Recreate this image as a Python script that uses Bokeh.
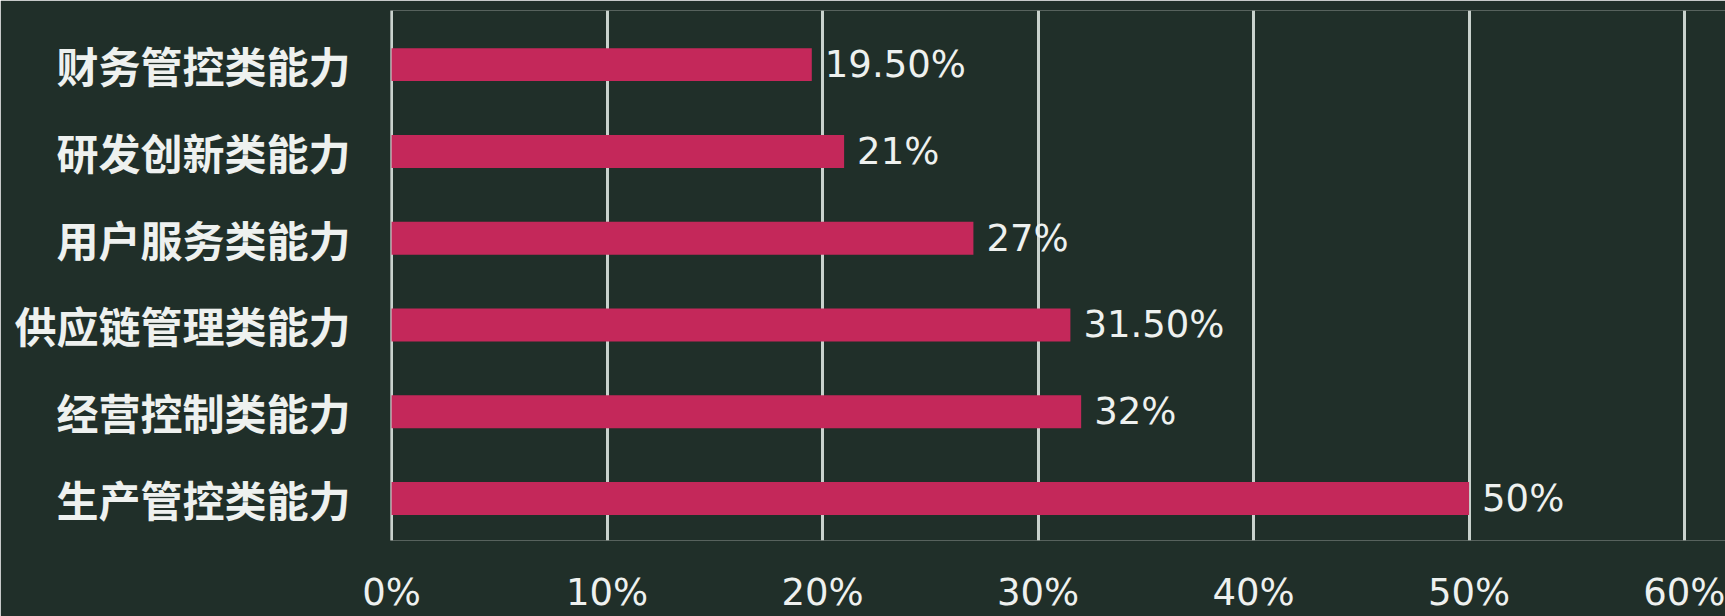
import numpy as np
from bokeh.plotting import figure
from bokeh.models import Range1d, FixedTicker, ColumnDataSource
from bokeh.embed import file_html
from bokeh.resources import INLINE
from bokeh.core.properties import value

categories = ["财务管控类能力", "研发创新类能力", "用户服务类能力",
              "供应链管理类能力", "经营控制类能力", "生产管控类能力"]
values = [19.5, 21, 27, 31.5, 32, 50]
value_labels = ["19.50%", "21%", "27%", "31.50%", "32%", "50%"]
x_ticks = [0, 10, 20, 30, 40, 50, 60]
x_tick_labels = ["0%", "10%", "20%", "30%", "40%", "50%", "60%"]

BG = "#202f29"
BAR = "#c4285a"
TXT = "#eef1ef"
GRID = "#c9d2cd"

pos = list(range(len(categories)))
src = ColumnDataSource(dict(y=pos, v=values, lab=value_labels))

p = figure(width=1725, height=616, output_backend="svg", toolbar_location=None,
           x_range=Range1d(-0.05, 61.9), y_range=Range1d(5.485, -0.624),
           min_border_left=390, min_border_right=0, min_border_top=10, min_border_bottom=0)
p.background_fill_color = BG
p.border_fill_color = BG
p.outline_line_color = None

p.hbar(y="y", left=0, right="v", height=0.38, source=src, color=BAR, line_color=None)
p.text(x="v", y="y", text="lab", source=src, x_offset=13, text_baseline="middle",
       text_align="left", text_color=TXT, text_font=value("DejaVu Sans"),
       text_font_size="37px")

p.ygrid.grid_line_color = None
p.xgrid.grid_line_color = GRID
p.xgrid.grid_line_width = 3
p.xgrid.ticker = FixedTicker(ticks=x_ticks)

p.xaxis.ticker = FixedTicker(ticks=x_ticks)
p.xaxis.major_label_overrides = {t: l for t, l in zip(x_ticks, x_tick_labels)}
p.xaxis.axis_line_color = None
p.xaxis.major_tick_line_color = None
p.xaxis.minor_tick_line_color = None
p.xaxis.major_label_text_color = TXT
p.xaxis.major_label_text_font = "DejaVu Sans"
p.xaxis.major_label_text_font_size = "37px"
p.xaxis.major_label_standoff = 24

p.yaxis.ticker = FixedTicker(ticks=pos)
p.yaxis.major_label_overrides = {i: c for i, c in zip(pos, categories)}
p.yaxis.axis_line_color = None
p.yaxis.major_tick_line_color = None
p.yaxis.minor_tick_line_color = None
p.yaxis.major_label_text_color = TXT
p.yaxis.major_label_text_font = "Noto Sans CJK SC"
p.yaxis.major_label_text_font_style = "bold"
p.yaxis.major_label_text_font_size = "42px"
p.yaxis.major_label_standoff = 34

open("out.html", "w").write(file_html(p, INLINE))
